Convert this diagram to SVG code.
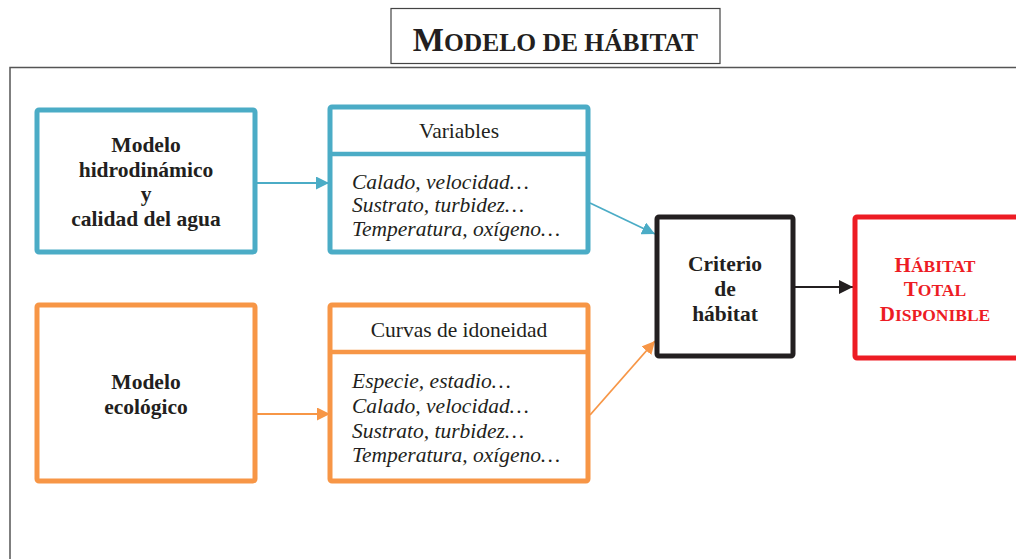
<svg xmlns="http://www.w3.org/2000/svg" width="1016" height="559" viewBox="0 0 1016 559">
<style>
.b{font-weight:bold;font-size:21.5px;text-anchor:middle}
.h{font-size:21.5px;text-anchor:middle}
.i{font-style:italic;font-size:21.5px}
.blue{fill:#fff;stroke:#4bacc6;stroke-width:5}
.orange{fill:#fff;stroke:#f79646;stroke-width:5}
</style>
<defs>
<marker id="ab" viewBox="0 0 10 10" refX="10" refY="5" markerWidth="13" markerHeight="13" markerUnits="userSpaceOnUse" orient="auto"><path d="M0,0L10,5L0,10z" fill="#4bacc6"/></marker>
<marker id="ao" viewBox="0 0 10 10" refX="10" refY="5" markerWidth="13" markerHeight="13" markerUnits="userSpaceOnUse" orient="auto"><path d="M0,0L10,5L0,10z" fill="#f79646"/></marker>
<marker id="ak" viewBox="0 0 10 10" refX="10" refY="5" markerWidth="14" markerHeight="14" markerUnits="userSpaceOnUse" orient="auto"><path d="M0,0L10,5L0,10z" fill="#231f20"/></marker>
</defs>
<rect x="10" y="67.5" width="1020" height="500" fill="none" stroke="#555" stroke-width="1.5"/>
<g font-family="Liberation Serif, Times New Roman, serif" fill="#231f20">
<g id="title">
<rect x="391" y="8.5" width="329" height="55" fill="#fff" stroke="#444" stroke-width="1.2"/>
<text x="555.5" y="51" text-anchor="middle" font-weight="bold" font-size="33">M<tspan font-size="25.5">ODELO DE HÁBITAT</tspan></text>
</g>
<g id="connectors">
<line x1="257" y1="183" x2="329" y2="183" stroke="#4bacc6" stroke-width="1.8" marker-end="url(#ab)"/>
<line x1="590" y1="203" x2="655" y2="234" stroke="#4bacc6" stroke-width="1.8" marker-end="url(#ab)"/>
<line x1="257" y1="414" x2="330" y2="414" stroke="#f79646" stroke-width="1.8" marker-end="url(#ao)"/>
<line x1="590" y1="415" x2="655" y2="341" stroke="#f79646" stroke-width="1.8" marker-end="url(#ao)"/>
<line x1="795" y1="287" x2="853" y2="287" stroke="#231f20" stroke-width="1.8" marker-end="url(#ak)"/>
</g>
<g id="hidro">
<rect class="blue" x="37" y="110" width="218" height="142" rx="2"/>
<text class="b" x="146" y="152">Modelo</text>
<text class="b" x="146" y="177">hidrodinámico</text>
<text class="b" x="146" y="201">y</text>
<text class="b" x="146" y="226">calidad del agua</text>
</g>
<g id="variables">
<rect class="blue" x="330" y="107" width="258" height="145" rx="2"/>
<line x1="330" y1="154" x2="588" y2="154" stroke="#4bacc6" stroke-width="4.5"/>
<text class="h" x="459" y="138">Variables</text>
<text class="i" x="352" y="189">Calado, velocidad…</text>
<text class="i" x="352" y="212">Sustrato, turbidez…</text>
<text class="i" x="352" y="236">Temperatura, oxígeno…</text>
</g>
<g id="ecologico">
<rect class="orange" x="37" y="305" width="218" height="176" rx="2"/>
<text class="b" x="146" y="389">Modelo</text>
<text class="b" x="146" y="414">ecológico</text>
</g>
<g id="curvas">
<rect class="orange" x="330" y="305" width="258" height="176" rx="2"/>
<line x1="330" y1="352" x2="588" y2="352" stroke="#f79646" stroke-width="4.5"/>
<text class="h" x="459" y="337">Curvas de idoneidad</text>
<text class="i" x="352" y="388">Especie, estadio…</text>
<text class="i" x="352" y="413">Calado, velocidad…</text>
<text class="i" x="352" y="438">Sustrato, turbidez…</text>
<text class="i" x="352" y="462">Temperatura, oxígeno…</text>
</g>
<g id="criterio">
<rect x="657" y="217" width="136" height="139" rx="2" fill="#fff" stroke="#231f20" stroke-width="5"/>
<text class="b" x="725" y="271">Criterio</text>
<text class="b" x="725" y="296">de</text>
<text class="b" x="725" y="321">hábitat</text>
</g>
<g id="habitat" fill="#ed1c24">
<rect x="855" y="217" width="164" height="141" rx="2" fill="#fff" stroke="#ed1c24" stroke-width="5"/>
<text class="b" x="935" y="272" style="font-size:21px">H<tspan font-size="17.5">ÁBITAT</tspan></text>
<text class="b" x="935" y="296" style="font-size:21px">T<tspan font-size="17.5">OTAL</tspan></text>
<text class="b" x="935" y="321" style="font-size:21px">D<tspan font-size="17.5">ISPONIBLE</tspan></text>
</g>
</g>
</svg>
